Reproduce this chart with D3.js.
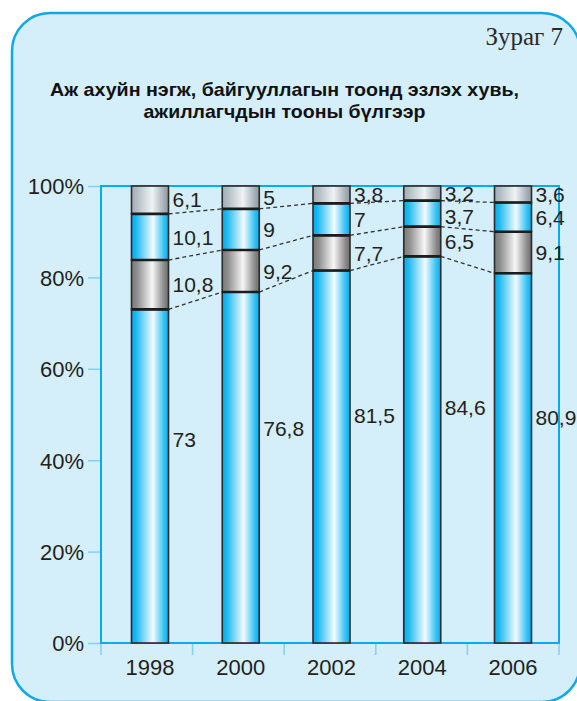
<!DOCTYPE html>
<html>
<head>
<meta charset="utf-8">
<script src="https://cdn.jsdelivr.net/npm/d3@7/dist/d3.min.js"></script>
<style>
  html, body { margin: 0; padding: 0; background: #ffffff; }
  svg { display: block; }
</style>
</head>
<body>
<script>
// ---- data ----
const years = ["1998", "2000", "2002", "2004", "2006"];
const share1 = [73, 76.8, 81.5, 84.6, 80.9];
const share2 = [10.8, 9.2, 7.7, 6.5, 9.1];
const share3 = [10.1, 9, 7, 5.7, 6.4];
const share4 = [6.1, 5, 3.8, 3.2, 3.6];
const labels1 = ["73", "76,8", "81,5", "84,6", "80,9"];
const labels2 = ["10,8", "9,2", "7,7", "6,5", "9,1"];
const labels3 = ["10,1", "9", "7", "3,7", "6,4"];
const labels4 = ["6,1", "5", "3,8", "3,2", "3,6"];
const yTicks = [0, 20, 40, 60, 80, 100];
const yTickLabels = ["0%", "20%", "40%", "60%", "80%", "100%"];
const figLabel = "Зураг 7";
const titleLines = ["Аж ахуйн нэгж, байгууллагын тоонд эзлэх хувь,", "ажиллагчдын тооны бүлгээр"];

const W = 577, H = 701;
const svg = d3.select("body").append("svg").attr("width", W).attr("height", H);

// panel
const px0 = 12, py0 = 13, px1 = 580, py1 = 702, r = 38;
svg.append("rect").attr("x", px0).attr("y", py0)
  .attr("width", px1 - px0).attr("height", py1 - py0)
  .attr("rx", r).attr("ry", r)
  .attr("fill", "#d4eefa").attr("stroke", "#0ea9e8").attr("stroke-width", 2.5);

// gradients
const defs = svg.append("defs");
function grad(id, stops) {
  const g = defs.append("linearGradient").attr("id", id)
    .attr("x1", "0%").attr("x2", "100%").attr("y1", "0%").attr("y2", "0%");
  stops.forEach(s => g.append("stop").attr("offset", s[0]).attr("stop-color", s[1]));
}
grad("gBlue", [["0%", "#00adee"], ["12%", "#1cb8f0"], ["58%", "#f2fbff"], ["88%", "#33c2f2"], ["100%", "#00aeef"]]);
grad("gGray", [["0%", "#7a7a7a"], ["15%", "#8e8e8e"], ["56%", "#f6f6f6"], ["88%", "#8a8a8a"], ["100%", "#6c6c6c"]]);
grad("gLight", [["0%", "#a2acb4"], ["15%", "#b4bdc4"], ["56%", "#f0f3f5"], ["88%", "#a4aeb6"], ["100%", "#8d98a0"]]);
const fills = ["url(#gBlue)", "url(#gGray)", "url(#gBlue)", "url(#gLight)"];

// scales
const y = d3.scaleLinear().domain([0, 100]).range([643, 186]);
const xEdges = d3.scaleBand().domain(years).range([101, 559]);
const xc = d3.scalePoint().domain(years).range([150, 513]);
const barW = 37;

// title
svg.append("text").attr("x", 563).attr("y", 45).attr("text-anchor", "end")
  .attr("font-family", "'Liberation Serif', 'DejaVu Serif', serif").attr("font-size", 25)
  .attr("fill", "#2a2a2a").text(figLabel);
const tl = [[96, 469], [118, 282]];
titleLines.forEach((t, i) => {
  svg.append("text").attr("x", 284.5).attr("y", tl[i][0]).attr("text-anchor", "middle")
    .attr("font-family", "'Liberation Sans', Arial, sans-serif").attr("font-weight", "bold")
    .attr("font-size", 19).attr("fill", "#111")
    .attr("textLength", tl[i][1]).attr("lengthAdjust", "spacingAndGlyphs").text(t);
});

// axes ticks
const tickCol = "#7fd1f3", axisCol = "#00aeef";
const yAxis = d3.axisLeft(y).tickValues(yTicks).tickSize(13).tickFormat((d, i) => yTickLabels[i]);
const gy = svg.append("g").attr("transform", "translate(101,0)").call(yAxis);
gy.select(".domain").remove();
gy.selectAll(".tick line").attr("stroke", tickCol).attr("stroke-width", 1.5);
gy.selectAll(".tick text").attr("x", -17).attr("dy", "0.36em")
  .attr("font-family", "'Liberation Sans', Arial, sans-serif").attr("font-size", 22).attr("fill", "#231f20");

const edgeVals = years.map(d => xEdges(d)).concat([xEdges.range()[1]]);
svg.append("g").selectAll("line").data(edgeVals).join("line")
  .attr("x1", d => d).attr("x2", d => d).attr("y1", 643).attr("y2", 655)
  .attr("stroke", tickCol).attr("stroke-width", 1.5);

// frame lines
svg.append("line").attr("x1", 101).attr("x2", 101).attr("y1", y(100)).attr("y2", y(0)).attr("stroke", axisCol).attr("stroke-width", 2);
svg.append("line").attr("x1", 100).attr("x2", 560).attr("y1", y(100)).attr("y2", y(100)).attr("stroke", axisCol).attr("stroke-width", 2);
svg.append("line").attr("x1", 559).attr("x2", 559).attr("y1", y(100)).attr("y2", y(0)).attr("stroke", axisCol).attr("stroke-width", 2);
svg.append("line").attr("x1", 100).attr("x2", 560).attr("y1", y(0)).attr("y2", y(0)).attr("stroke", axisCol).attr("stroke-width", 2);

// x labels
svg.append("g").selectAll("text").data(years).join("text")
  .attr("x", d => xc(d)).attr("y", 675).attr("text-anchor", "middle")
  .attr("font-family", "'Liberation Sans', Arial, sans-serif").attr("font-size", 22)
  .attr("fill", "#231f20").text(d => d);

// stack
const table = years.map((yr, i) => ({ year: yr, s1: share1[i], s2: share2[i], s3: share3[i], s4: share4[i] }));
const keys = ["s1", "s2", "s3", "s4"];
const series = d3.stack().keys(keys)(table);
const labelSets = [labels1, labels2, labels3, labels4];

// dashed connectors (boundaries between segments)
const conn = svg.append("g");
[0, 1, 2].forEach(k => {
  for (let i = 0; i < years.length - 1; i++) {
    const a = series[k][i][1], b = series[k][i + 1][1];
    conn.append("line")
      .attr("x1", xc(years[i]) + barW / 2).attr("y1", y(a))
      .attr("x2", xc(years[i + 1]) - barW / 2).attr("y2", y(b))
      .attr("stroke", "#333").attr("stroke-width", 1.3).attr("stroke-dasharray", "4,3");
  }
});

// segments
series.forEach((s, k) => {
  svg.append("g").selectAll("rect").data(s).join("rect")
    .attr("x", d => xc(d.data.year) - barW / 2)
    .attr("y", d => y(d[1]))
    .attr("width", barW)
    .attr("height", d => y(d[0]) - y(d[1]))
    .attr("fill", fills[k])
    .attr("stroke", "#2b2b2b").attr("stroke-width", 1.6);
});
// boundary lines (thicker)
[0, 1, 2].forEach(k => {
  svg.append("g").selectAll("line").data(series[k]).join("line")
    .attr("x1", d => xc(d.data.year) - barW / 2).attr("x2", d => xc(d.data.year) + barW / 2)
    .attr("y1", d => y(d[1])).attr("y2", d => y(d[1]))
    .attr("stroke", "#1c1c1c").attr("stroke-width", 2.6);
});

// value labels, top-down with a minimum spacing so neighbours do not collide
const minGap = 23;
years.forEach((yr, i) => {
  let prevY = -Infinity;
  for (let k = 3; k >= 0; k--) {
    const d = series[k][i];
    let ly = k === 0 ? y(d[1] * 0.61) : y((d[0] + d[1]) / 2);
    if (ly - prevY < minGap) ly = prevY + minGap;
    prevY = ly;
    svg.append("text")
      .attr("x", xc(yr) + barW / 2 + 4)
      .attr("y", ly).attr("dy", "0.36em")
      .attr("font-family", "'Liberation Sans', Arial, sans-serif").attr("font-size", 21)
      .attr("fill", "#231f20")
      .text(labelSets[k][i]);
  }
});
</script>
</body>
</html>
